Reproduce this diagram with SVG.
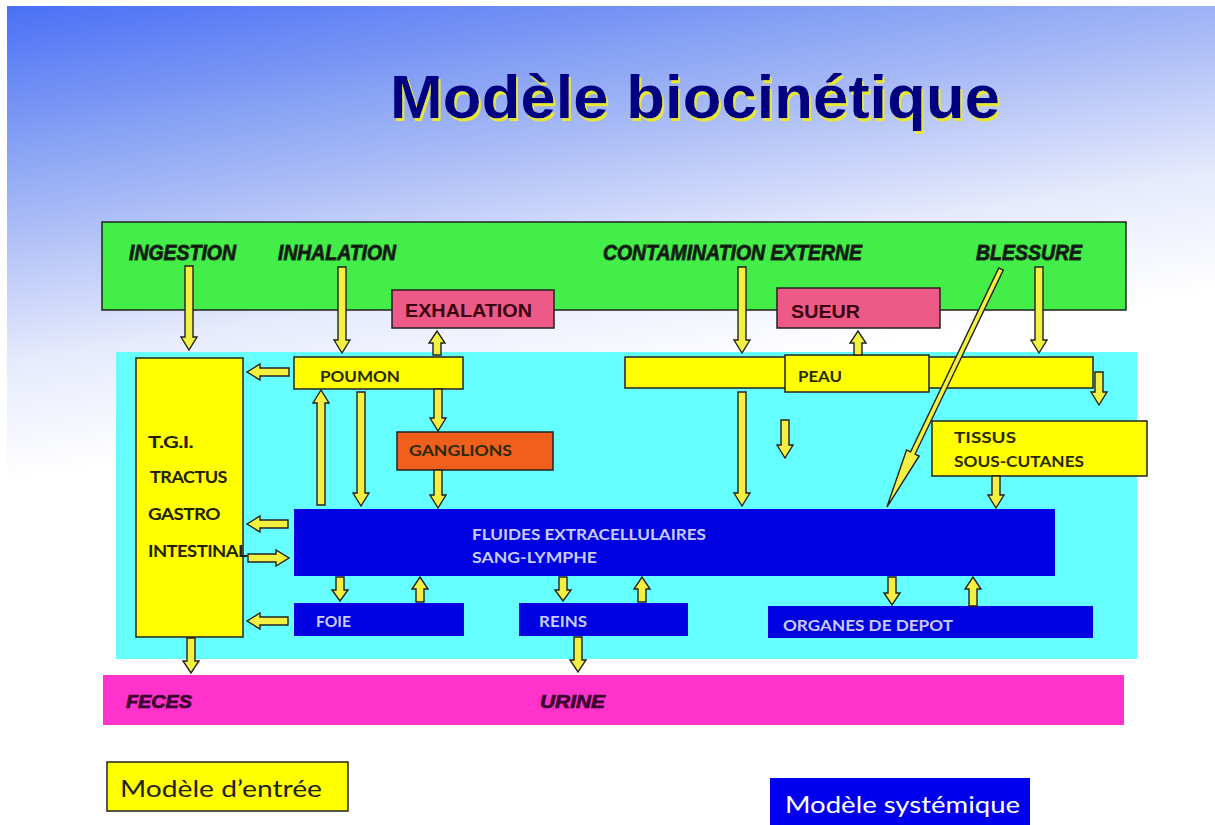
<svg xmlns="http://www.w3.org/2000/svg" width="1215" height="825" viewBox="0 0 1215 825">
<defs>
<linearGradient id="bg" gradientUnits="userSpaceOnUse" x1="7" y1="6" x2="80" y2="470">
<stop offset="0" stop-color="#4a70f6"/>
<stop offset="0.3" stop-color="#88a2f4"/>
<stop offset="0.55" stop-color="#bccaf8"/>
<stop offset="0.75" stop-color="#e6eafc"/>
<stop offset="1" stop-color="#ffffff"/>
</linearGradient>
<filter id="shadow" x="-5%" y="-20%" width="110%" height="140%">
<feOffset in="SourceAlpha" dx="2" dy="3" result="off"/>
<feFlood flood-color="#e8e830"/>
<feComposite in2="off" operator="in" result="sh"/>
<feMerge><feMergeNode in="sh"/><feMergeNode in="SourceGraphic"/></feMerge>
</filter>
<style>
.box{stroke:#222;stroke-width:1.5}
.yel{fill:#ffff00}
.blu{fill:#0000e0;stroke:none}
.arr{fill:#f4f040;stroke:#222;stroke-width:1.4;stroke-linejoin:miter}
.src{font-family:"Liberation Sans",Arial,sans-serif;font-weight:bold;font-style:italic;font-size:22px;fill:#111;stroke:#1a3a1a;stroke-width:1}
.out{font-family:"Liberation Sans",Arial,sans-serif;font-weight:bold;font-style:italic;font-size:19px;fill:#3a0030;stroke:#3a0030;stroke-width:0.7}
.pk{font-family:"Liberation Sans",Arial,sans-serif;font-weight:bold;font-size:18px;fill:#3a0010}
.lb{font-family:Lato,"Open Sans",sans-serif;font-weight:bold;font-size:16px;fill:#2a2a00}
.lw{font-family:Lato,"Open Sans",sans-serif;font-weight:bold;font-size:15px;fill:#c8ccff}
.tg{font-family:Lato,"Open Sans",sans-serif;font-weight:bold;font-size:17px;fill:#222200;letter-spacing:-0.5px}
.leg{font-family:Lato,"Open Sans",sans-serif;font-size:24px}
</style>
</defs>
<rect x="0" y="0" width="1215" height="825" fill="#ffffff"/>
<rect x="7" y="6" width="1208" height="819" fill="url(#bg)"/>

<g id="title">
<text x="390" y="118" font-family="'Liberation Sans',Arial,sans-serif" font-weight="bold" font-size="62" fill="#000080" textLength="610" lengthAdjust="spacingAndGlyphs" filter="url(#shadow)">Modèle biocinétique</text>
</g>

<g id="sources">
<rect class="box" x="102" y="222" width="1024" height="88" fill="#44ee48"/>
<text class="src" x="129" y="260" textLength="107" lengthAdjust="spacingAndGlyphs">INGESTION</text>
<text class="src" x="278" y="260" textLength="118" lengthAdjust="spacingAndGlyphs">INHALATION</text>
<text class="src" x="603" y="260" textLength="259" lengthAdjust="spacingAndGlyphs">CONTAMINATION EXTERNE</text>
<text class="src" x="976" y="260" textLength="106" lengthAdjust="spacingAndGlyphs">BLESSURE</text>
</g>

<g id="organism">
<rect x="116" y="352" width="1021" height="307" fill="#66ffff"/>
</g>

<g id="excreta">
<rect x="103" y="675" width="1021" height="50" fill="#ff33cc"/>
<text class="out" x="126" y="708" textLength="66" lengthAdjust="spacingAndGlyphs">FECES</text>
<text class="out" x="540" y="708" textLength="65" lengthAdjust="spacingAndGlyphs">URINE</text>
</g>

<g id="exhalation">
<rect class="box" x="392" y="290" width="162" height="38" fill="#ee5a88"/>
<text class="pk" x="405" y="317" textLength="127" lengthAdjust="spacingAndGlyphs">EXHALATION</text>
</g>

<g id="sueur">
<rect class="box" x="777" y="288" width="163" height="40" fill="#ee5a88"/>
<text class="pk" x="791" y="318" textLength="69" lengthAdjust="spacingAndGlyphs">SUEUR</text>
</g>

<g id="tgi">
<rect class="box yel" x="136" y="358" width="107" height="279"/>
<text class="tg" x="148" y="448" font-size="23" textLength="45" lengthAdjust="spacingAndGlyphs">T.G.I.</text>
<text class="tg" x="150" y="483" textLength="77" lengthAdjust="spacingAndGlyphs">TRACTUS</text>
<text class="tg" x="148" y="520" textLength="72" lengthAdjust="spacingAndGlyphs">GASTRO</text>
<text class="tg" x="148" y="557" textLength="99" lengthAdjust="spacingAndGlyphs">INTESTINAL</text>
</g>

<g id="poumon">
<rect class="box yel" x="294" y="357" width="169" height="32"/>
<text class="lb" x="320" y="382" textLength="80" lengthAdjust="spacingAndGlyphs">POUMON</text>
</g>

<g id="peau">
<rect class="box yel" x="625" y="357" width="468" height="31"/>
<rect class="box yel" x="785" y="355" width="144" height="37"/>
<text class="lb" x="798" y="382" textLength="44" lengthAdjust="spacingAndGlyphs">PEAU</text>
</g>

<g id="ganglions">
<rect class="box" x="397" y="432" width="156" height="38" fill="#f0601c"/>
<text class="lb" x="409" y="456" fill="#3a1400" textLength="103" lengthAdjust="spacingAndGlyphs">GANGLIONS</text>
</g>

<g id="tissus">
<rect class="box yel" x="932" y="421" width="215" height="55"/>
<text class="lb" x="954" y="443" textLength="62" lengthAdjust="spacingAndGlyphs">TISSUS</text>
<text class="lb" x="954" y="467" textLength="130" lengthAdjust="spacingAndGlyphs">SOUS-CUTANES</text>
</g>

<g id="fluides">
<rect class="blu" x="294" y="509" width="761" height="67"/>
<text class="lw" x="472" y="540" textLength="234" lengthAdjust="spacingAndGlyphs">FLUIDES EXTRACELLULAIRES</text>
<text class="lw" x="472" y="563" textLength="125" lengthAdjust="spacingAndGlyphs">SANG-LYMPHE</text>
</g>

<g id="foie">
<rect class="blu" x="294" y="603" width="170" height="33"/>
<text class="lw" x="316" y="627" textLength="35" lengthAdjust="spacingAndGlyphs">FOIE</text>
</g>

<g id="reins">
<rect class="blu" x="519" y="603" width="169" height="33"/>
<text class="lw" x="539" y="627" textLength="48" lengthAdjust="spacingAndGlyphs">REINS</text>
</g>

<g id="organes">
<rect class="blu" x="768" y="606" width="325" height="32"/>
<text class="lw" x="783" y="631" textLength="170" lengthAdjust="spacingAndGlyphs">ORGANES DE DEPOT</text>
</g>

<g id="connectors">
<path class="arr" d="M185 266H193V337H197L189 350L181 337H185Z"/>
<path class="arr" d="M338 267H346V340H350L342 353L334 340H338Z"/>
<path class="arr" d="M738 267H746V340H750L742 353L734 340H738Z"/>
<path class="arr" d="M1035 267H1043V340H1047L1039 353L1031 340H1035Z"/>
<path class="arr" d="M357 392H365V493H369L361 506L353 493H357Z"/>
<path class="arr" d="M434 389H442V418H446L438 431L430 418H434Z"/>
<path class="arr" d="M434 470H442V495H446L438 508L430 495H434Z"/>
<path class="arr" d="M738 392H746V493H750L742 506L734 493H738Z"/>
<path class="arr" d="M781 420H789V445H793L785 458L777 445H781Z"/>
<path class="arr" d="M1095 372H1103V392H1107L1099 405L1091 392H1095Z"/>
<path class="arr" d="M992 476H1000V495H1004L996 508L988 495H992Z"/>
<path class="arr" d="M336 577H344V590H348L340 601L332 590H336Z"/>
<path class="arr" d="M559 577H567V590H571L563 601L555 590H559Z"/>
<path class="arr" d="M888 577H896V593H900L892 605L884 593H888Z"/>
<path class="arr" d="M187 638H195V661H199L191 673L183 661H187Z"/>
<path class="arr" d="M574 637H582V660H586L578 672L570 660H574Z"/>
<path class="arr" d="M433 355H441V343H445L437 331L429 343H433Z"/>
<path class="arr" d="M854 355H862V343H866L858 331L850 343H854Z"/>
<path class="arr" d="M317 505H325V403H329L321 390L313 403H317Z"/>
<path class="arr" d="M416 602H424V589H428L420 577L412 589H416Z"/>
<path class="arr" d="M638 602H646V589H650L642 577L634 589H638Z"/>
<path class="arr" d="M969 606H977V589H981L973 577L965 589H969Z"/>
<path class="arr" d="M289 368V376H260V380L247 372L260 364V368Z"/>
<path class="arr" d="M288 520V528H260V532L247 524L260 516V520Z"/>
<path class="arr" d="M288 617V625H260V629L247 621L260 613V617Z"/>
<path class="arr" d="M248 554V562H276V566L289 558L276 550V554Z"/>
<path class="arr" transform="translate(1001 269) rotate(115.6)" d="M0 -2.5H204V-7L264 0L204 7V2.5H0Z"/>
</g>

<g id="legend-entree">
<rect class="box" x="107" y="762" width="241" height="49" fill="#ffff00"/>
<text class="leg" x="120" y="797" fill="#222" textLength="202" lengthAdjust="spacingAndGlyphs">Modèle d’entrée</text>
</g>

<g id="legend-systemique">
<rect x="770" y="778" width="260" height="52" fill="#0000ee"/>
<text class="leg" x="785" y="813" fill="#ffffff" textLength="235" lengthAdjust="spacingAndGlyphs">Modèle systémique</text>
</g>
</svg>
